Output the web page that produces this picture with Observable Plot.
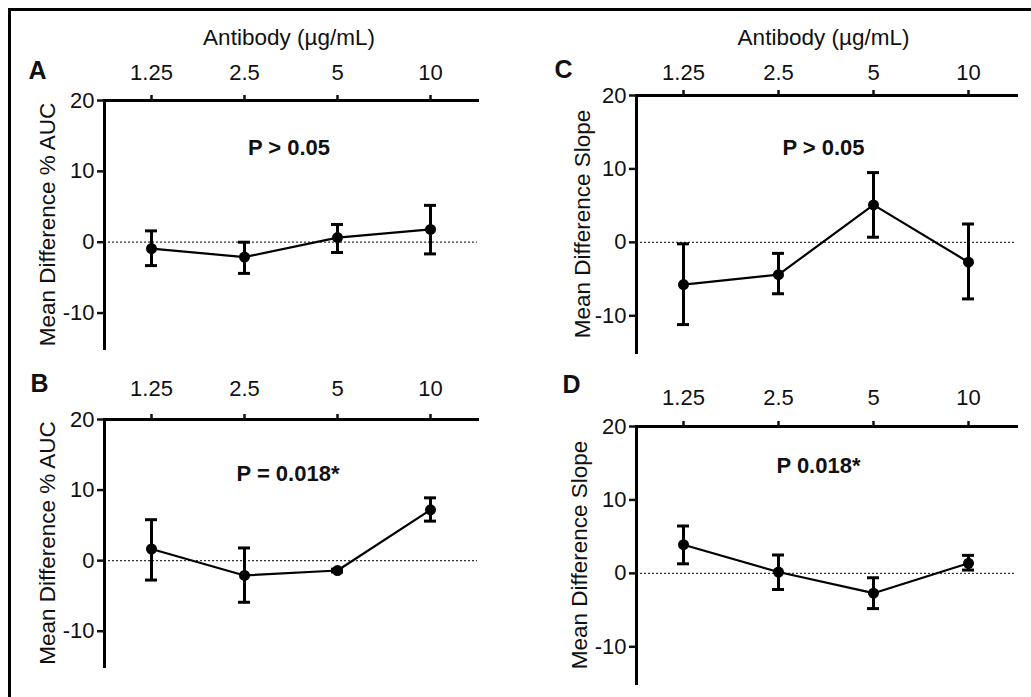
<!DOCTYPE html>
<html>
<head>
<meta charset="utf-8">
<script src="https://cdn.jsdelivr.net/npm/d3@7"></script>
<script src="https://cdn.jsdelivr.net/npm/@observablehq/plot@0.6"></script>
<style>
  html, body { margin: 0; padding: 0; background: #fff; }
  #wrap { position: relative; width: 1031px; height: 697px; overflow: hidden; background: #fff; }
  #wrap svg { position: absolute; }
  #border { position: absolute; left: 8px; top: 8px; width: 1030px; height: 700px;
            border-top: 3px solid #000; border-left: 3px solid #000; z-index: 5; }
</style>
</head>
<body>
<div id="wrap"><div id="border"></div></div>
<script>
// ---- data ----
const concentrations = ["1.25", "2.5", "5", "10"];
const yTicks = [-10, 0, 10, 20];
const yDomain = [-15, 20];
const xAxisTitle = "Antibody (µg/mL)";

// Panel A: Mean Difference % AUC
const meanA = [-0.9, -2.1, 0.65, 1.8];
const lowA  = [-3.3, -4.4, -1.45, -1.65];
const highA = [1.6, 0.0, 2.5, 5.2];
// Panel B: Mean Difference % AUC
const meanB = [1.65, -2.1, -1.4, 7.2];
const lowB  = [-2.75, -5.9, -1.6, 5.6];
const highB = [5.8, 1.8, -1.2, 8.9];
// Panel C: Mean Difference Slope
const meanC = [-5.75, -4.4, 5.1, -2.7];
const lowC  = [-11.2, -7.0, 0.7, -7.7];
const highC = [-0.2, -1.5, 9.5, 2.5];
// Panel D: Mean Difference Slope
const meanD = [3.9, 0.18, -2.7, 1.37];
const lowD  = [1.3, -2.2, -4.8, 0.45];
const highD = [6.45, 2.5, -0.6, 2.45];

const yLabels = {A: "Mean Difference % AUC", B: "Mean Difference % AUC", C: "Mean Difference Slope", D: "Mean Difference Slope"};
const pTexts = {A: "P > 0.05", B: "P = 0.018*", C: "P > 0.05", D: "P 0.018*"};

// ---- layout (positions only) ----
const layout = {
  A: {left: 0,   top: 0,   width: 500, height: 360, mL: 104, mR: 23, mT: 100, mB: 12, tickPad: 22,
      xl: {dx: -2, dy: -63}, yl: -57, letter: {dx: -67, dy: -30}, p: {dx: -2, dy: 47}},
  C: {left: 500, top: 0,   width: 531, height: 360, mL: 136, mR: 15, mT: 95, mB: 8, tickPad: 17,
      xl: {dx: -3, dy: -58}, yl: -54, letter: {dx: -73, dy: -26}, p: {dx: -3, dy: 52}},
  B: {left: 0,   top: 360, width: 500, height: 337, mL: 104, mR: 23, mT: 59, mB: 31, tickPad: 25,
      xl: null, yl: -57, letter: {dx: -65, dy: -36}, p: {dx: -3, dy: 54}},
  D: {left: 500, top: 360, width: 531, height: 337, mL: 136, mR: 15, mT: 66, mB: 14, tickPad: 23,
      xl: null, yl: -57, letter: {dx: -65, dy: -42}, p: {dx: -8, dy: 39}}
};

const series = {
  A: [meanA, lowA, highA], B: [meanB, lowB, highB],
  C: [meanC, lowC, highC], D: [meanD, lowD, highD]
};

const FONT = "'Liberation Sans', Arial, Helvetica, sans-serif";
const wrap = document.getElementById("wrap");

for (const key of ["A", "B", "C", "D"]) {
  const L = layout[key];
  const [mean, low, high] = series[key];
  const rows = concentrations.map((c, i) => ({c, mean: mean[i], low: low[i], high: high[i]}));
  const marks = [
    Plot.ruleY([0], {strokeDasharray: "2,2", strokeWidth: 1.2, stroke: "#333"}),
    Plot.frame({anchor: "top", strokeWidth: 3, stroke: "#000"}),
    Plot.frame({anchor: "left", strokeWidth: 3, stroke: "#000"}),
    Plot.axisX({anchor: "top", tickSize: 6, tickPadding: L.tickPad, lineAnchor: "middle",
                label: null, strokeWidth: 2.5, fontSize: 22, fill: "#111"}),
    Plot.axisY({ticks: yTicks, tickSize: 7, tickPadding: 3, label: null, strokeWidth: 2.5,
                fontSize: 22, fill: "#111", tickFormat: d => (d < 0 ? "-" + Math.abs(d) : String(d))}),
    Plot.ruleX(rows, {x: "c", y1: "low", y2: "high", strokeWidth: 3, stroke: "#000"}),
    Plot.tickY(rows, {x: "c", y: "low", strokeWidth: 3, stroke: "#000"}),
    Plot.tickY(rows, {x: "c", y: "high", strokeWidth: 3, stroke: "#000"}),
    Plot.line(rows, {x: "c", y: "mean", strokeWidth: 2.2, stroke: "#000"}),
    Plot.dot(rows, {x: "c", y: "mean", r: 5.5, fill: "#000", stroke: "none"}),
    Plot.text([pTexts[key]], {text: d => d, frameAnchor: "top", dx: L.p.dx, dy: L.p.dy,
               textAnchor: "middle", lineAnchor: "middle",
               fontWeight: "bold", fontSize: 22, fill: "#111"}),
    Plot.text([yLabels[key]], {text: d => d, frameAnchor: "left", rotate: -90, dx: L.yl,
               textAnchor: "middle", lineAnchor: "middle",
               fontSize: 22.5, fill: "#111"}),
    Plot.text([key], {text: d => d, frameAnchor: "top-left", dx: L.letter.dx, dy: L.letter.dy,
               textAnchor: "middle", lineAnchor: "middle",
               fontWeight: "bold", fontSize: 25, fill: "#111"})
  ];
  if (L.xl) {
    marks.push(Plot.text([xAxisTitle], {text: d => d, frameAnchor: "top", dx: L.xl.dx, dy: L.xl.dy,
               textAnchor: "middle", lineAnchor: "middle",
               fontSize: 22.5, fill: "#111"}));
  }
  const svg = Plot.plot({
    width: L.width, height: L.height,
    marginLeft: L.mL, marginRight: L.mR, marginTop: L.mT, marginBottom: L.mB,
    style: {fontFamily: FONT, fontSize: "22px", color: "#111", background: "transparent", overflow: "visible"},
    x: {type: "band", domain: concentrations, paddingInner: 0.87, paddingOuter: 0.435},
    y: {domain: yDomain},
    marks
  });
  svg.style.left = L.left + "px";
  svg.style.top = L.top + "px";
  wrap.appendChild(svg);
}
</script>
</body>
</html>
